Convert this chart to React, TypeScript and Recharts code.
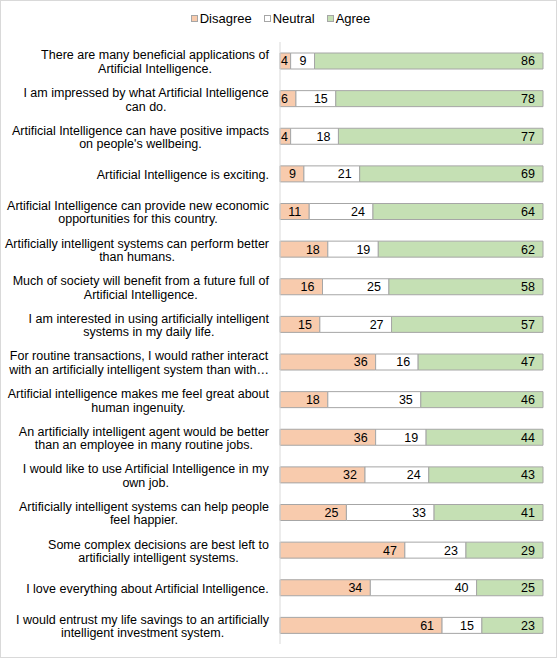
import React from "react";
import { BarChart, Bar, XAxis, YAxis, Legend, LabelList } from "recharts";

const CATEGORIES = [
  "There are many beneficial applications of\nArtificial Intelligence.",
  "I am impressed by what Artificial Intelligence\ncan do.",
  "Artificial Intelligence can have positive impacts\non people's wellbeing.",
  "Artificial Intelligence is exciting.",
  "Artificial Intelligence can provide new economic\nopportunities for this country.",
  "Artificially intelligent systems can perform better\nthan humans.",
  "Much of society will benefit from a future full of\nArtificial Intelligence.",
  "I am interested in using artificially intelligent\nsystems in my daily life.",
  "For routine transactions, I would rather interact\nwith an artificially intelligent system than with…",
  "Artificial intelligence makes me feel great about\nhuman ingenuity.",
  "An artificially intelligent agent would be better\nthan an employee in many routine jobs.",
  "I would like to use Artificial Intelligence in my\nown job.",
  "Artificially intelligent systems can help people\nfeel happier.",
  "Some complex decisions are best left to\nartificially intelligent systems.",
  "I love everything about Artificial Intelligence.",
  "I would entrust my life savings to an artificially\nintelligent investment system.",
];

const DISAGREE = [4, 6, 4, 9, 11, 18, 16, 15, 36, 18, 36, 32, 25, 47, 34, 61];
const NEUTRAL = [9, 15, 18, 21, 24, 19, 25, 27, 16, 35, 19, 24, 33, 23, 40, 15];
const AGREE = [86, 78, 77, 69, 64, 62, 58, 57, 47, 46, 44, 43, 41, 29, 25, 23];

const SERIES = [
  { key: "disagree", name: "Disagree", color: "#F8CBAD" },
  { key: "neutral", name: "Neutral", color: "#FFFFFF" },
  { key: "agree", name: "Agree", color: "#C5E0B4" },
];

const data = CATEGORIES.map((label, i) => ({
  label,
  disagree: DISAGREE[i],
  neutral: NEUTRAL[i],
  agree: AGREE[i],
}));

const FONT = '"Liberation Sans", Arial, sans-serif';
const FS = 12.5;

let ctx: CanvasRenderingContext2D | null = null;
function measure(t: string): number {
  if (!ctx) {
    const c = document.createElement("canvas");
    ctx = c.getContext("2d");
  }
  if (!ctx) return t.length * 6;
  ctx.font = `${FS}px ${FONT}`;
  return ctx.measureText(t).width;
}

function CategoryTick(props: any) {
  const { x, y, payload } = props;
  const lines = String(payload.value).split("\n");
  const maxW = Math.max(...lines.map(measure));
  const cx = x - maxW / 2;
  const lh = 13.5;
  const startY = y + 1 - ((lines.length - 1) * lh) / 2;
  return (
    <text x={cx} y={startY} textAnchor="middle" fontSize={FS} fontFamily={FONT} fill="#000">
      {lines.map((l, i) => (
        <tspan key={i} x={cx} dy={i === 0 ? "0.35em" : lh}>
          {l}
        </tspan>
      ))}
    </text>
  );
}

function ValueLabel(props: any) {
  const vb = props.viewBox || {};
  const x = props.x ?? vb.x;
  const y = props.y ?? vb.y;
  const width = props.width ?? vb.width;
  const height = props.height ?? vb.height;
  const value = props.value;
  const txt = String(value);
  const tw = measure(txt);
  const end = Math.max(x + width - 8, x + tw + 1);
  return (
    <text
      x={end}
      y={y + height / 2}
      dy="0.35em"
      textAnchor="end"
      fontSize={FS}
      fontFamily={FONT}
      fill="#000"
    >
      {txt}
    </text>
  );
}

function LegendContent() {
  return (
    <div
      style={{
        display: "flex",
        justifyContent: "center",
        alignItems: "center",
        height: 20,
        marginBottom: 14,
        paddingLeft: 18,
        fontFamily: FONT,
        fontSize: 13,
        color: "#000",
      }}
    >
      {SERIES.map((s, i) => (
        <div key={s.key} style={{ display: "flex", alignItems: "center", marginLeft: i === 0 ? 0 : 12 }}>
          <span
            style={{
              display: "inline-block",
              width: 7,
              height: 7,
              background: s.color,
              border: "1px solid #a6a6a6",
              boxSizing: "border-box",
              marginRight: 2,
            }}
          />
          <span>{s.name}</span>
        </div>
      ))}
    </div>
  );
}

export default function App() {
  return (
    <div style={{ position: "absolute", left: 0, top: 0, width: 557, height: 658, background: "#fff" }}>
      <BarChart
        width={557}
        height={658}
        data={data}
        layout="vertical"
        stackOffset="expand"
        margin={{ top: 8, right: 14, bottom: 14, left: 0 }}
        barSize={16}
      >
        <Legend verticalAlign="top" align="center" content={<LegendContent />} />
        <XAxis type="number" domain={[0, 1]} hide />
        <YAxis
          type="category"
          dataKey="label"
          width={280}
          tickLine={false}
          tickSize={0}
          tickMargin={11}
          axisLine={{ stroke: "#d9d9d9" }}
          tick={<CategoryTick />}
          interval={0}
        />
        {SERIES.map((s) => (
          <Bar
            key={s.key}
            dataKey={s.key}
            name={s.name}
            stackId="a"
            fill={s.color}
            stroke="#a6a6a6"
            strokeWidth={1}
            isAnimationActive={false}
          >
            <LabelList dataKey={s.key} content={<ValueLabel />} />
          </Bar>
        ))}
      </BarChart>
      <div
        style={{
          position: "absolute",
          left: 0,
          top: 0,
          width: 557,
          height: 658,
          border: "1px solid #d9d9d9",
          boxSizing: "border-box",
          pointerEvents: "none",
        }}
      />
    </div>
  );
}
